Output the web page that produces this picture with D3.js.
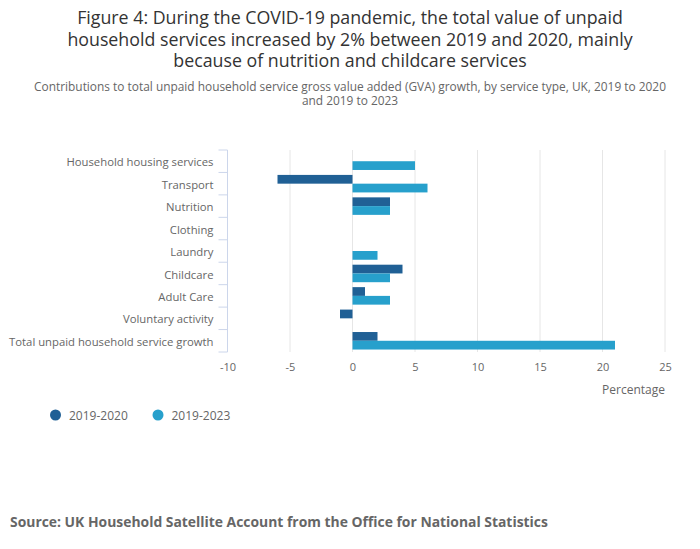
<!DOCTYPE html>
<html><head><meta charset="utf-8">
<script src="https://cdn.jsdelivr.net/npm/d3@7"></script>
<style>body{margin:0;background:#fff;font-family:"Open Sans",sans-serif;}</style>
</head><body><svg id="c" width="700" height="549"></svg>
<script>
const categories = ["Household housing services","Transport","Nutrition","Clothing","Laundry","Childcare","Adult Care","Voluntary activity","Total unpaid household service growth"];
const series2020 = [0,-6,3,0,0,4,1,-1,2];
const series2023 = [5,6,3,0,2,3,3,0,21];
const seriesNames = ["2019-2020","2019-2023"];
const colors = ["#206095","#27a0cc"];
const xTicks = [-10,-5,0,5,10,15,20,25];

(function(){
const svg = d3.select("#c");
const pL=227.5, pR=665, pT=150, pB=352;
const x = d3.scaleLinear().domain([-10,25]).range([pL,pR]);
const y = d3.scaleBand().domain(categories).range([pT,pB]).paddingInner(0.22).paddingOuter(0.11);
const inner = d3.scaleBand().domain(seriesNames).range([0,y.bandwidth()]);

const title = ["Figure 4: During the COVID-19 pandemic, the total value of unpaid","household services increased by 2% between 2019 and 2020, mainly","because of nutrition and childcare services"];
svg.append("text").attr("text-anchor","middle").attr("fill","#333").style("font-size","17.8px")
  .selectAll("tspan").data(title).join("tspan").attr("x",350).attr("y",(d,i)=>24+i*21.5).text(d=>d);
const sub = ["Contributions to total unpaid household service gross value added (GVA) growth, by service type, UK, 2019 to 2020","and 2019 to 2023"];
svg.append("text").attr("text-anchor","middle").attr("fill","#666").style("font-size","11.9px")
  .selectAll("tspan").data(sub).join("tspan").attr("x",350).attr("y",(d,i)=>91+i*14).text(d=>d);

svg.append("g").selectAll("line").data(xTicks.filter(t=>t!==-10)).join("line")
  .attr("x1",d=>x(d)).attr("x2",d=>x(d)).attr("y1",pT).attr("y2",pB).attr("stroke","#e6e6e6");

const xa = svg.append("g").attr("transform",`translate(0,${pB})`)
  .call(d3.axisBottom(x).tickValues(xTicks).tickFormat(d=>String(d)).tickSize(0).tickPadding(11));
xa.select(".domain").remove();
xa.selectAll("text").attr("fill","#666").style("font-size","11px").style("font-family","Open Sans");
svg.append("text").attr("x",665).attr("y",394).attr("text-anchor","end").attr("fill","#666").style("font-size","12px").text("Percentage");

const boundaries = d3.range(categories.length+1).map(i=>pT+i*(pB-pT)/categories.length);
svg.append("line").attr("x1",pL).attr("x2",pL).attr("y1",pT).attr("y2",pB).attr("stroke","#ccd6eb");
svg.append("g").selectAll("line").data(boundaries).join("line")
  .attr("x1",pL-9).attr("x2",pL).attr("y1",d=>d).attr("y2",d=>d).attr("stroke","#ccd6eb");
const ya = svg.append("g").attr("transform",`translate(${pL-14},1.5)`)
  .call(d3.axisLeft(y).tickSize(0).tickPadding(0));
ya.select(".domain").remove();
ya.selectAll("text").attr("fill","#666").style("font-size","11.3px").style("font-family","Open Sans");

const data = categories.map((c,i)=>({c, vals:[series2020[i],series2023[i]]}));
const g = svg.append("g");
data.forEach(d=>{
  d.vals.forEach((v,j)=>{
    if(v===0) return;
    g.append("rect").attr("x",x(Math.min(0,v))).attr("width",Math.abs(x(v)-x(0)))
      .attr("y",y(d.c)+inner(seriesNames[j])).attr("height",inner.bandwidth()).attr("fill",colors[j]);
  });
});

const lx=[55.5,158];
seriesNames.forEach((n,i)=>{
  svg.append("circle").attr("cx",lx[i]).attr("cy",415).attr("r",5.5).attr("fill",colors[i]);
  svg.append("text").attr("x",lx[i]+13.5).attr("y",420).attr("fill","#666").style("font-size","12px").text(n);
});

svg.append("text").attr("x",10).attr("y",527).attr("fill","#666").style("font-size","13.9px").style("font-weight","bold")
  .text("Source: UK Household Satellite Account from the Office for National Statistics");
})();
</script></body></html>
